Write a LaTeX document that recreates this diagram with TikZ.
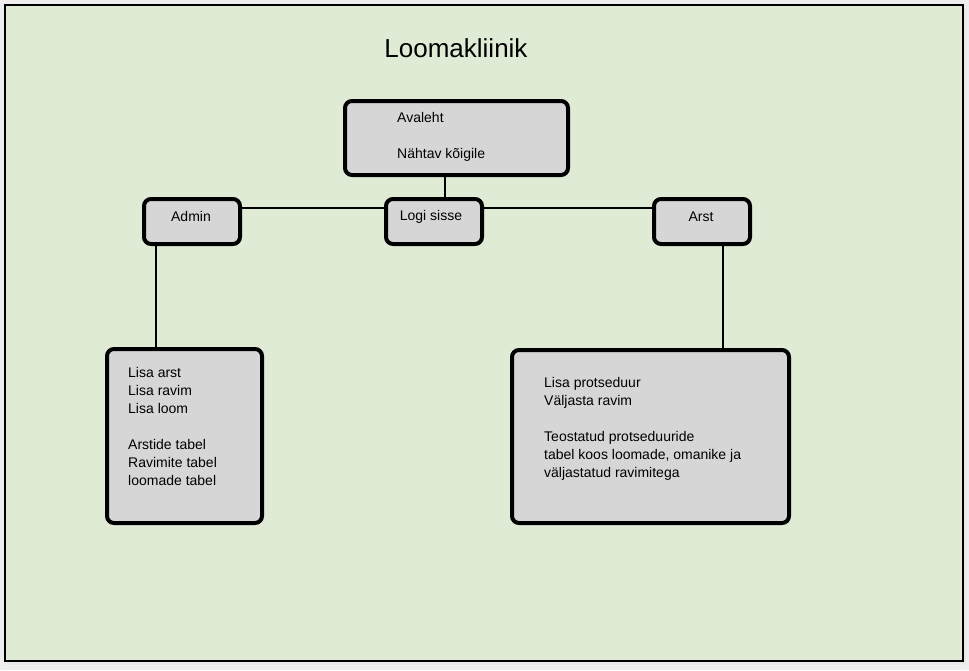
\documentclass[tikz,border=0pt]{standalone}
\usepackage{fontspec}
\setmainfont{Liberation Sans}
\usetikzlibrary{calc,positioning}
\definecolor{pagegray}{HTML}{EEEEEE}
\definecolor{panelgreen}{HTML}{E0EBD6}
\definecolor{boxgray}{HTML}{D6D6D6}

\begin{document}
\begin{tikzpicture}[x=1pt, y=-1pt,
  box/.style={draw, line width=4pt, rounded corners=7pt, fill=boxgray, inner sep=0pt, outer sep=0pt, anchor=north west},
  txt/.style={inner sep=0pt, font=\fontsize{14}{18}\selectfont, align=left},
  link/.style={line width=2pt}]

  % page and panel
  \fill[pagegray] (0,0) rectangle (969,670);
  \useasboundingbox (0,0) rectangle (969,670);
  \fill[black!9] (8,8) rectangle (966,665);
  \draw[line width=2pt, fill=panelgreen] (5,4.5) rectangle (963,661);

  \node[anchor=base, inner sep=0pt, font=\fontsize{26}{30}\selectfont] (title) at (456,57) {Loomakliinik};

  % boxes
  \node[box, minimum width=223pt, minimum height=74pt] (avaleht) at (345,101) {};
  \node[box, minimum width=96pt, minimum height=45pt] (logi) at (386,199) {};
  \node[box, minimum width=96pt, minimum height=45pt] (admin) at (144,199) {};
  \node[box, minimum width=96pt, minimum height=45pt] (arst) at (654,199) {};
  \node[box, minimum width=155pt, minimum height=174pt] (adminlist) at (107,349) {};
  \node[box, minimum width=277pt, minimum height=173pt] (arstlist) at (512,350) {};

  % connectors
  \draw[link] ([xshift=100pt]avaleht.south west) -- ([xshift=59pt]logi.north west);
  \draw[link] ([yshift=13.5pt]admin.east) -- ([yshift=13.5pt]logi.west);
  \draw[link] ([yshift=13.5pt]logi.east) -- ([yshift=13.5pt]arst.west);
  \coordinate (adminfoot) at ([xshift=12pt]admin.south west);
  \draw[link] (adminfoot) -- (adminfoot |- adminlist.north);
  \coordinate (arstfoot) at ([xshift=69pt]arst.south west);
  \draw[link] (arstfoot) -- (arstfoot |- arstlist.north);

  % texts (base = last line)
  \node[txt, anchor=base west] (avalehttxt) at (397,158) {Avaleht\\[18pt]Nähtav kõigile};
  \node[txt, anchor=base] (logitxt) at (431,220) {Logi sisse};
  \node[txt, anchor=base] (admintxt) at (191,221) {Admin};
  \node[txt, anchor=base] (arsttxt) at (701,221) {Arst};
  \node[txt, anchor=base west] (adminlisttxt) at (128,485)
    {Lisa arst\\Lisa ravim\\Lisa loom\\[18pt]Arstide tabel\\Ravimite tabel\\loomade tabel};
  \node[txt, anchor=base west] (arstlisttxt) at (544,477)
    {Lisa protseduur\\Väljasta ravim\\[18pt]Teostatud protseduuride\\tabel koos loomade, omanike ja\\väljastatud ravimitega};

\end{tikzpicture}
\end{document}
